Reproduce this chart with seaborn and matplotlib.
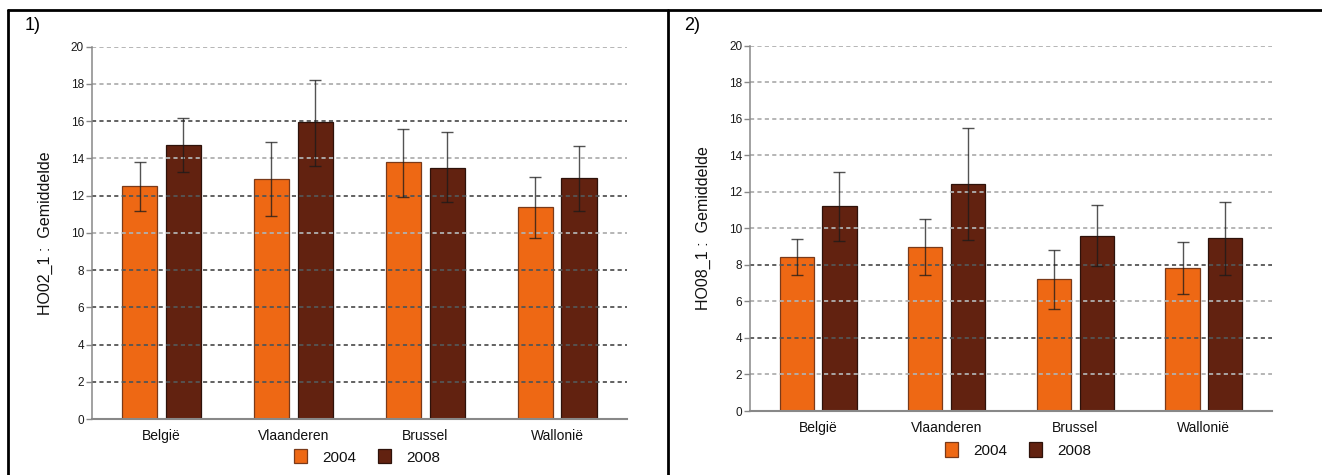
import matplotlib
matplotlib.use("Agg")
import matplotlib.pyplot as plt
import seaborn as sns
import pandas as pd
from matplotlib.lines import Line2D

# ---------------- data ----------------
regions = ["België", "Vlaanderen", "Brussel", "Wallonië"]
years = ["2004", "2008"]

# Panel 1: HO02_1 gemiddelde
p1_2004 = [12.5, 12.9, 13.8, 11.4]
p1_2008 = [14.7, 15.95, 13.5, 12.95]
p1_2004_lo = [11.2, 10.9, 11.95, 9.75]
p1_2004_hi = [13.8, 14.9, 15.6, 13.0]
p1_2008_lo = [13.25, 13.6, 11.65, 11.2]
p1_2008_hi = [16.15, 18.2, 15.4, 14.65]

# Panel 2: HO08_1 gemiddelde
p2_2004 = [8.45, 8.97, 7.2, 7.82]
p2_2008 = [11.2, 12.45, 9.58, 9.48]
p2_2004_lo = [7.42, 7.43, 5.6, 6.42]
p2_2004_hi = [9.42, 10.5, 8.8, 9.28]
p2_2008_lo = [9.3, 9.37, 7.93, 7.47]
p2_2008_hi = [13.06, 15.5, 11.3, 11.45]

yticks = [0, 2, 4, 6, 8, 10, 12, 14, 16, 18, 20]
ylabels = ["HO02_1 :  Gemiddelde", "HO08_1 :  Gemiddelde"]
panel_tags = ["1)", "2)"]

# ---------------- style ----------------
sns.set_theme(style="white")
plt.rcParams["font.family"] = ["Liberation Sans", "DejaVu Sans"]

colors = {"2004": "#EE6814", "2008": "#622210"}
edge_colors = ["#7a3a1a", "#2e120a"]

W, H = 1322, 475
fig = plt.figure(figsize=(W / 100, H / 100), dpi=100)

# axes placement (pixels: left, bottom, right, top in image coords)
boxes = [(91.5, 419, 627, 46.7), (750, 411, 1272, 45.7)]
legend_pos = [(0.515, -0.102), (0.514, -0.107)]
dark_grid = [{0, 2, 4, 6, 8, 12, 16}, {4, 8}]

panels = [
    (p1_2004, p1_2008, p1_2004_lo, p1_2004_hi, p1_2008_lo, p1_2008_hi),
    (p2_2004, p2_2008, p2_2004_lo, p2_2004_hi, p2_2008_lo, p2_2008_hi),
]

for i, (v04, v08, lo04, hi04, lo08, hi08) in enumerate(panels):
    l, b, r, t = boxes[i]
    ax = fig.add_axes([l / W, 1 - b / H, (r - l) / W, (b - t) / H])
    df = pd.DataFrame({
        "Regio": regions * 2,
        "Jaar": [years[0]] * 4 + [years[1]] * 4,
        "Waarde": list(v04) + list(v08),
    })
    sns.barplot(data=df, x="Regio", y="Waarde", hue="Jaar", order=regions,
                hue_order=years, palette=colors, saturation=1, width=0.664,
                gap=0.2, errorbar=None, legend=False, ax=ax, zorder=2)
    bar_containers = list(ax.containers)
    los = [lo04, lo08]
    his = [hi04, hi08]
    for k, cont in enumerate(bar_containers):
        xs, ys, el, eh = [], [], [], []
        for j, p in enumerate(cont.patches):
            p.set_edgecolor(edge_colors[k])
            p.set_linewidth(0.9)
            x = p.get_x() + p.get_width() / 2
            y = p.get_height()
            xs.append(x)
            ys.append(y)
            el.append(y - los[k][j])
            eh.append(his[k][j] - y)
        ax.errorbar(xs, ys, yerr=[el, eh], fmt="none", ecolor="#1a1a1a",
                    alpha=0.75, elinewidth=1.0, capsize=4, capthick=1.0,
                    zorder=4)

    ax.set_ylim(0, 20)
    ax.set_xlim(-0.53, 3.53)
    ax.set_yticks(yticks)
    ax.set_yticklabels([str(v) for v in yticks], fontsize=8.5, color="#1a1a1a")
    ax.tick_params(axis="y", length=4, width=1.0, color="#888888", pad=1.5,
                   left=True)
    ax.tick_params(axis="x", length=0, pad=7, labelsize=10, labelcolor="#111111")
    ax.set_xlabel("")
    ax.set_ylabel(ylabels[i], fontsize=11.5, color="#111111", labelpad=13)

    # dashed gridlines drawn over the bars
    for v in yticks[1:]:
        ax.axhline(v, color="#555555" if v in dark_grid[i] else "#b0b0b0",
                   lw=1.3, ls=(0, (2.3, 1.8)), zorder=3)

    for s in ["top", "right"]:
        ax.spines[s].set_visible(False)
    ax.spines["left"].set_color("#888888")
    ax.spines["left"].set_linewidth(1.1)
    ax.spines["bottom"].set_color("#888888")
    ax.spines["bottom"].set_linewidth(1.5)
    ax.spines["left"].set_zorder(5)
    ax.spines["bottom"].set_zorder(5)

    handles = [c.patches[0] for c in bar_containers]
    leg = ax.legend(handles, years, loc="center", bbox_to_anchor=legend_pos[i],
                    ncol=2, frameon=False, fontsize=11, handlelength=0.85,
                    handleheight=1.05, handletextpad=1.0, columnspacing=1.4,
                    borderaxespad=0)
    for txt in leg.get_texts():
        txt.set_color("#111111")

    # panel tag
    tag_x = 25 if i == 0 else 684
    fig.text(tag_x / W, 1 - 17 / H, panel_tags[i], fontsize=13, ha="left",
             va="top", color="black")

# table border lines
fig.add_artist(Line2D([8 / W, 1.0], [1 - 10 / H, 1 - 10 / H], color="black",
                      lw=2, transform=fig.transFigure))
fig.add_artist(Line2D([8 / W, 8 / W], [0, 1 - 10 / H], color="black", lw=2,
                      transform=fig.transFigure))
fig.add_artist(Line2D([668 / W, 668 / W], [0, 1 - 10 / H], color="black", lw=2,
                      transform=fig.transFigure))

fig.savefig("out.png", dpi=100)
